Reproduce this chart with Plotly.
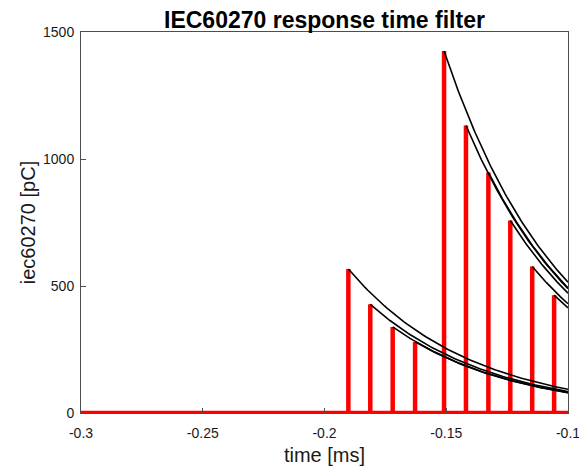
import numpy as np
import plotly.graph_objects as go

# Data
spike_times = [-0.1902, -0.1812, -0.1720, -0.1628, -0.1509, -0.1419, -0.1327, -0.1237, -0.1147, -0.1057]
spike_heights = [567, 428, 339, 280, 1425, 1132, 947, 758, 577, 464]
tau = 0.05          # decay time constant of the filter envelope [ms]
x_start, x_end = -0.3, -0.1
x_ticks = [-0.3, -0.25, -0.2, -0.15, -0.1]
x_ticklabels = ["-0.3", "-0.25", "-0.2", "-0.15", "-0.1"]
y_ticks = [0, 500, 1000, 1500]
y_ticklabels = ["0", "500", "1000", "1500"]

# Red response trace: baseline with narrow spikes
rx, ry = [x_start], [0]
for t, h in zip(spike_times, spike_heights):
    rx += [t, t, t]
    ry += [0, h, 0]
rx.append(x_end)
ry.append(0)

fig = go.Figure()
fig.add_trace(go.Scatter(x=rx, y=ry, mode="lines",
                         line=dict(color="#ff0000", width=4.5),
                         cliponaxis=False, showlegend=False, hoverinfo="skip"))

# Black exponential decay envelopes from each spike
for t, h in zip(spike_times, spike_heights):
    xs = np.linspace(t, x_end, 80)
    ys = h * np.exp(-(xs - t) / tau)
    fig.add_trace(go.Scatter(x=xs, y=ys, mode="lines",
                             line=dict(color="black", width=1.6),
                             showlegend=False, hoverinfo="skip"))

FONT = "Liberation Sans, Arial"
axis_common = dict(showgrid=False, zeroline=False, showline=True, mirror=True,
                   linecolor="#4d4d4d", linewidth=1, ticks="inside", ticklen=5,
                   tickcolor="#4d4d4d", automargin=False,
                   tickfont=dict(family=FONT, size=14, color="#1a1a1a"))

# page has an 8px body margin, so the figure is sized to fit the 587x472 window
fig.update_layout(
    width=579, height=464,
    margin=dict(l=73, r=19, t=24, b=59, autoexpand=False),
    paper_bgcolor="white", plot_bgcolor="white",
    title=dict(text="<b>IEC60270 response time filter</b>", x=0.5466, xanchor="center",
               y=0.957, yanchor="bottom",
               font=dict(family=FONT, size=23, color="black")),
    xaxis=dict(range=[x_start, x_end], tickvals=x_ticks, ticktext=x_ticklabels,
               ticklabelstandoff=7,
               title=dict(text="time [ms]", font=dict(family=FONT, size=20, color="#1a1a1a"), standoff=8),
               **axis_common),
    yaxis=dict(range=[0, 1500], tickvals=y_ticks, ticktext=y_ticklabels,
               ticklabelstandoff=3,
               title=dict(text="iec60270 [pC]", font=dict(family=FONT, size=20, color="#1a1a1a"), standoff=2),
               **axis_common),
)

fig.write_html("out.html")
